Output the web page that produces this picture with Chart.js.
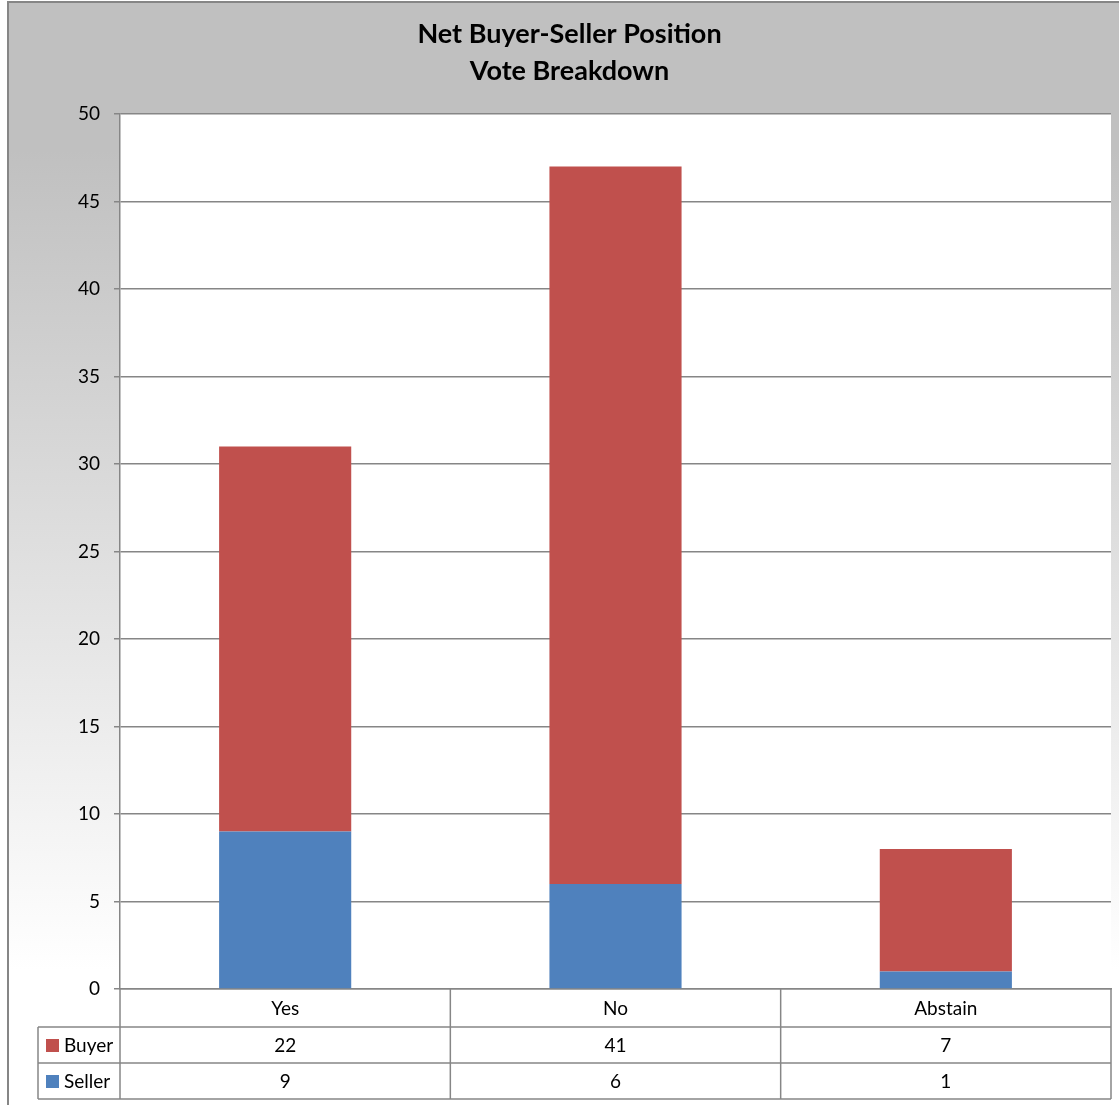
<!DOCTYPE html>
<html>
<head>
<meta charset="utf-8">
<script src="https://cdn.jsdelivr.net/npm/chart.js@4.4.1/dist/chart.umd.min.js"></script>
<style>
  html, body { margin: 0; padding: 0; background: #fff; }
  #wrap { width: 1119px; height: 1105px; position: relative; }
</style>
</head>
<body>
<div id="wrap"><canvas id="chart" width="1119" height="1105"></canvas></div>
<script>
const categories = ["Yes", "No", "Abstain"];
const buyerVotes = [22, 41, 7];
const sellerVotes = [9, 6, 1];
const titleLines = ["Net Buyer-Seller Position", "Vote Breakdown"];
const yMin = 0;
const yMax = 50;
const yStep = 5;

const FONT = "Lato, 'Open Sans', sans-serif";
const LINE = "#868686";
const BUYER = "#C0504D";
const SELLER = "#4F81BD";

// background gradient, frame and white plot area
const frame = {
    id: "frame",
    beforeDraw(chart) {
        const ctx = chart.ctx;
        const a = chart.chartArea;
        ctx.save();
        const g = ctx.createLinearGradient(0, 150, 0, 970);
        g.addColorStop(0, "#C0C0C0");
        g.addColorStop(1, "#FFFFFF");
        ctx.fillStyle = g;
        ctx.fillRect(7, 1, chart.width - 7, chart.height - 1);
        ctx.strokeStyle = LINE;
        ctx.lineWidth = 2;
        ctx.beginPath();
        ctx.moveTo(8, chart.height);
        ctx.lineTo(8, 2);
        ctx.lineTo(chart.width, 2);
        ctx.stroke();
        ctx.fillStyle = "#FFFFFF";
        ctx.fillRect(a.left, a.top, a.right - a.left, a.bottom - a.top);
        ctx.restore();
    }
};

// data table under the plot, with legend keys
const dataTable = {
    id: "dataTable",
    afterDraw(chart) {
        const ctx = chart.ctx;
        const a = chart.chartArea;
        const x = chart.scales.x;
        const rows = [
            { label: "Buyer", color: BUYER, values: buyerVotes },
            { label: "Seller", color: SELLER, values: sellerVotes }
        ];
        const rowH = 36;
        const headTop = a.bottom;
        const headBottom = a.bottom + 38;
        const legendLeft = 38;
        const colW = (a.right - a.left) / categories.length;

        ctx.save();
        ctx.strokeStyle = LINE;
        ctx.lineWidth = 1.5;
        ctx.beginPath();
        // column separators
        for (let i = 0; i <= categories.length; i++) {
            const cx = a.left + i * colW;
            ctx.moveTo(cx, headTop);
            ctx.lineTo(cx, headBottom + rowH * rows.length);
        }
        // row lines
        for (let r = 0; r <= rows.length; r++) {
            const yy = headBottom + r * rowH;
            ctx.moveTo(legendLeft, yy);
            ctx.lineTo(a.right, yy);
        }
        ctx.moveTo(legendLeft, headBottom);
        ctx.lineTo(legendLeft, headBottom + rowH * rows.length);
        ctx.stroke();

        ctx.fillStyle = "#000";
        ctx.font = "19px " + FONT;
        ctx.textAlign = "center";
        ctx.textBaseline = "middle";
        categories.forEach((c, i) => {
            ctx.fillText(c, x.getPixelForValue(i), (headTop + headBottom) / 2 + 1);
        });
        rows.forEach((row, r) => {
            const cy = headBottom + r * rowH + rowH / 2 + 1;
            row.values.forEach((v, i) => {
                ctx.fillStyle = "#000";
                ctx.textAlign = "center";
                ctx.fillText(String(v), x.getPixelForValue(i), cy);
            });
            ctx.fillStyle = row.color;
            ctx.fillRect(legendLeft + 8, cy - 7, 13, 13);
            ctx.fillStyle = "#000";
            ctx.textAlign = "left";
            ctx.fillText(row.label, legendLeft + 26, cy);
        });
        ctx.restore();
    }
};

new Chart(document.getElementById("chart"), {
    type: "bar",
    data: {
        labels: categories,
        datasets: [
            { label: "Seller", data: sellerVotes, backgroundColor: SELLER, stack: "v" },
            { label: "Buyer", data: buyerVotes, backgroundColor: BUYER, stack: "v" }
        ]
    },
    options: {
        responsive: false,
        animation: false,
        devicePixelRatio: 1,
        layout: { padding: { left: 28, right: 8, top: 0, bottom: 0 } },
        datasets: { bar: { categoryPercentage: 1, barPercentage: 0.4 } },
        plugins: {
            legend: { display: false },
            tooltip: { enabled: false },
            title: {
                display: true,
                text: titleLines,
                color: "#000",
                font: { family: FONT, size: 27, weight: "bold", lineHeight: 1.37 },
                padding: { top: 16, bottom: 24 }
            }
        },
        scales: {
            x: {
                stacked: true,
                grid: { display: false, drawTicks: false },
                border: { display: true, color: LINE, width: 1.5 },
                ticks: { display: false },
                afterFit(s) { s.height = 116; }
            },
            y: {
                stacked: true,
                min: yMin,
                max: yMax,
                ticks: { stepSize: yStep, color: "#000", padding: 14, font: { family: FONT, size: 19 } },
                grid: { color: LINE, lineWidth: 1.5, tickLength: 6 },
                border: { display: true, color: LINE, width: 1.5 },
                afterFit(s) { s.width = 92; }
            }
        }
    },
    plugins: [frame, dataTable]
});
</script>
</body>
</html>
